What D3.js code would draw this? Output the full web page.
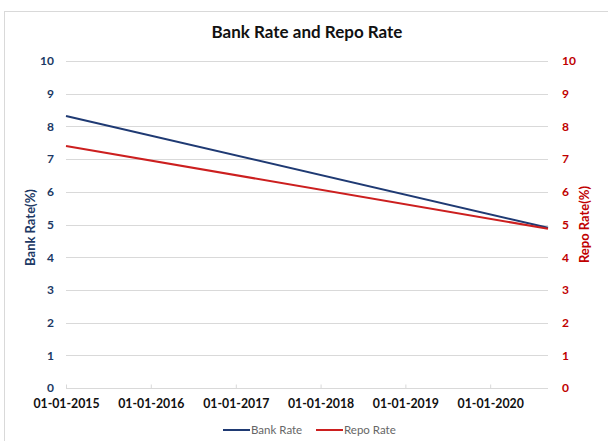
<!DOCTYPE html>
<html>
<head>
<meta charset="utf-8">
<script src="https://cdn.jsdelivr.net/npm/d3@7"></script>
<style>
  html, body { margin: 0; padding: 0; background: #fff; }
  svg { display: block; font-family: Lato, "Open Sans", sans-serif; }
</style>
</head>
<body>
<svg id="chart" width="608" height="441"></svg>
<script>
// Series endpoints (dates and rates in %)
const dates = ["2015-01-01", "2020-09-06"];
const bankRate = [8.32, 4.9];
const repoRate = [7.4, 4.87];
const yTicks = [0, 1, 2, 3, 4, 5, 6, 7, 8, 9, 10];
const xTickDates = ["2015-01-01", "2016-01-01", "2017-01-01", "2018-01-01", "2019-01-01", "2020-01-01"];
const seriesNames = ["Bank Rate", "Repo Rate"];

const navy = "#1F3A73";
const red = "#CC1F1F";
const navyText = "#203864";
const redText = "#C00000";

const svg = d3.select("#chart");
const parse = d3.timeParse("%Y-%m-%d");
const fmt = d3.timeFormat("%d-%m-%Y");

const m = { left: 66, right: 548, top: 61, bottom: 388 };

// Outer chart frame
svg.append("rect")
  .attr("x", 4.5).attr("y", 11.5)
  .attr("width", 640).attr("height", 460)
  .attr("fill", "#fff")
  .attr("stroke", "#d9d9d9");

const x = d3.scaleTime()
  .domain([parse(dates[0]), parse(dates[1])])
  .range([m.left, m.right]);
const yL = d3.scaleLinear().domain([0, 10]).range([m.bottom, m.top]);
const yR = d3.scaleLinear().domain([0, 10]).range([m.bottom, m.top]);

// Horizontal gridlines
svg.append("g")
  .selectAll("line")
  .data(yTicks.filter(d => d > 0))
  .join("line")
  .attr("x1", m.left).attr("x2", m.right)
  .attr("y1", d => Math.round(yL(d)) + 0.5)
  .attr("y2", d => Math.round(yL(d)) + 0.5)
  .attr("stroke", "#d9d9d9").attr("stroke-width", 1);

// Bottom axis
const xAxis = svg.append("g")
  .attr("transform", `translate(0,${Math.round(m.bottom) + 0.5})`)
  .call(d3.axisBottom(x)
    .tickValues(xTickDates.map(parse))
    .tickFormat(fmt)
    .tickSizeInner(-4)
    .tickSizeOuter(0)
    .tickPadding(11));
xAxis.select(".domain").attr("stroke", "#d9d9d9").attr("d", `M${m.left},0H${m.right}`);
xAxis.selectAll(".tick line").attr("stroke", "#d9d9d9");
xAxis.selectAll(".tick text")
  .attr("fill", "#111")
  .attr("font-size", 12.3)
  .attr("font-weight", "bold")
  .attr("font-family", "Lato, 'Open Sans', sans-serif");

// Left axis labels
const leftAxis = svg.append("g")
  .attr("transform", `translate(${m.left},0)`)
  .call(d3.axisLeft(yL).tickValues(yTicks).tickSize(0).tickPadding(12));
leftAxis.select(".domain").remove();
leftAxis.selectAll(".tick text")
  .attr("fill", navyText)
  .attr("font-size", 12)
  .attr("font-weight", "bold")
  .attr("font-family", "Lato, 'Open Sans', sans-serif");

// Right axis labels
const rightAxis = svg.append("g")
  .attr("transform", `translate(${m.right},0)`)
  .call(d3.axisRight(yR).tickValues(yTicks).tickSize(0).tickPadding(14));
rightAxis.select(".domain").remove();
rightAxis.selectAll(".tick text")
  .attr("fill", redText)
  .attr("font-size", 12)
  .attr("font-weight", "bold")
  .attr("font-family", "Lato, 'Open Sans', sans-serif");

// Series lines
const bankData = dates.map((d, i) => ({ date: parse(d), v: bankRate[i] }));
const repoData = dates.map((d, i) => ({ date: parse(d), v: repoRate[i] }));

svg.append("path")
  .datum(bankData)
  .attr("fill", "none")
  .attr("stroke", navy)
  .attr("stroke-width", 2)
  .attr("d", d3.line().x(d => x(d.date)).y(d => yL(d.v)));

svg.append("path")
  .datum(repoData)
  .attr("fill", "none")
  .attr("stroke", red)
  .attr("stroke-width", 2)
  .attr("d", d3.line().x(d => x(d.date)).y(d => yR(d.v)));

// Title
svg.append("text")
  .attr("x", 307).attr("y", 38)
  .attr("text-anchor", "middle")
  .attr("font-size", 17)
  .attr("font-weight", "bold")
  .attr("fill", "#111")
  .text("Bank Rate and Repo Rate");

// Axis titles
svg.append("text")
  .attr("transform", `translate(35,${(m.top + m.bottom) / 2 + 3}) rotate(-90)`)
  .attr("text-anchor", "middle")
  .attr("font-size", 13)
  .attr("font-weight", "bold")
  .attr("fill", navyText)
  .text("Bank Rate(%)");

svg.append("text")
  .attr("transform", `translate(589,${(m.top + m.bottom) / 2}) rotate(-90)`)
  .attr("text-anchor", "middle")
  .attr("font-size", 13)
  .attr("font-weight", "bold")
  .attr("fill", redText)
  .text("Repo Rate(%)");

// Legend
const legend = svg.append("g").attr("transform", "translate(223,430)");
const legendItems = [
  { name: seriesNames[0], color: navy, x: 0 },
  { name: seriesNames[1], color: red, x: 93 }
];
const li = legend.selectAll("g").data(legendItems).join("g")
  .attr("transform", d => `translate(${d.x},0)`);
li.append("line")
  .attr("x1", 0).attr("x2", 27).attr("y1", 0).attr("y2", 0)
  .attr("stroke", d => d.color).attr("stroke-width", 2);
li.append("text")
  .attr("x", 28).attr("y", 4)
  .attr("font-size", 11.5)
  .attr("fill", "#666")
  .text(d => d.name);
</script>
</body>
</html>
